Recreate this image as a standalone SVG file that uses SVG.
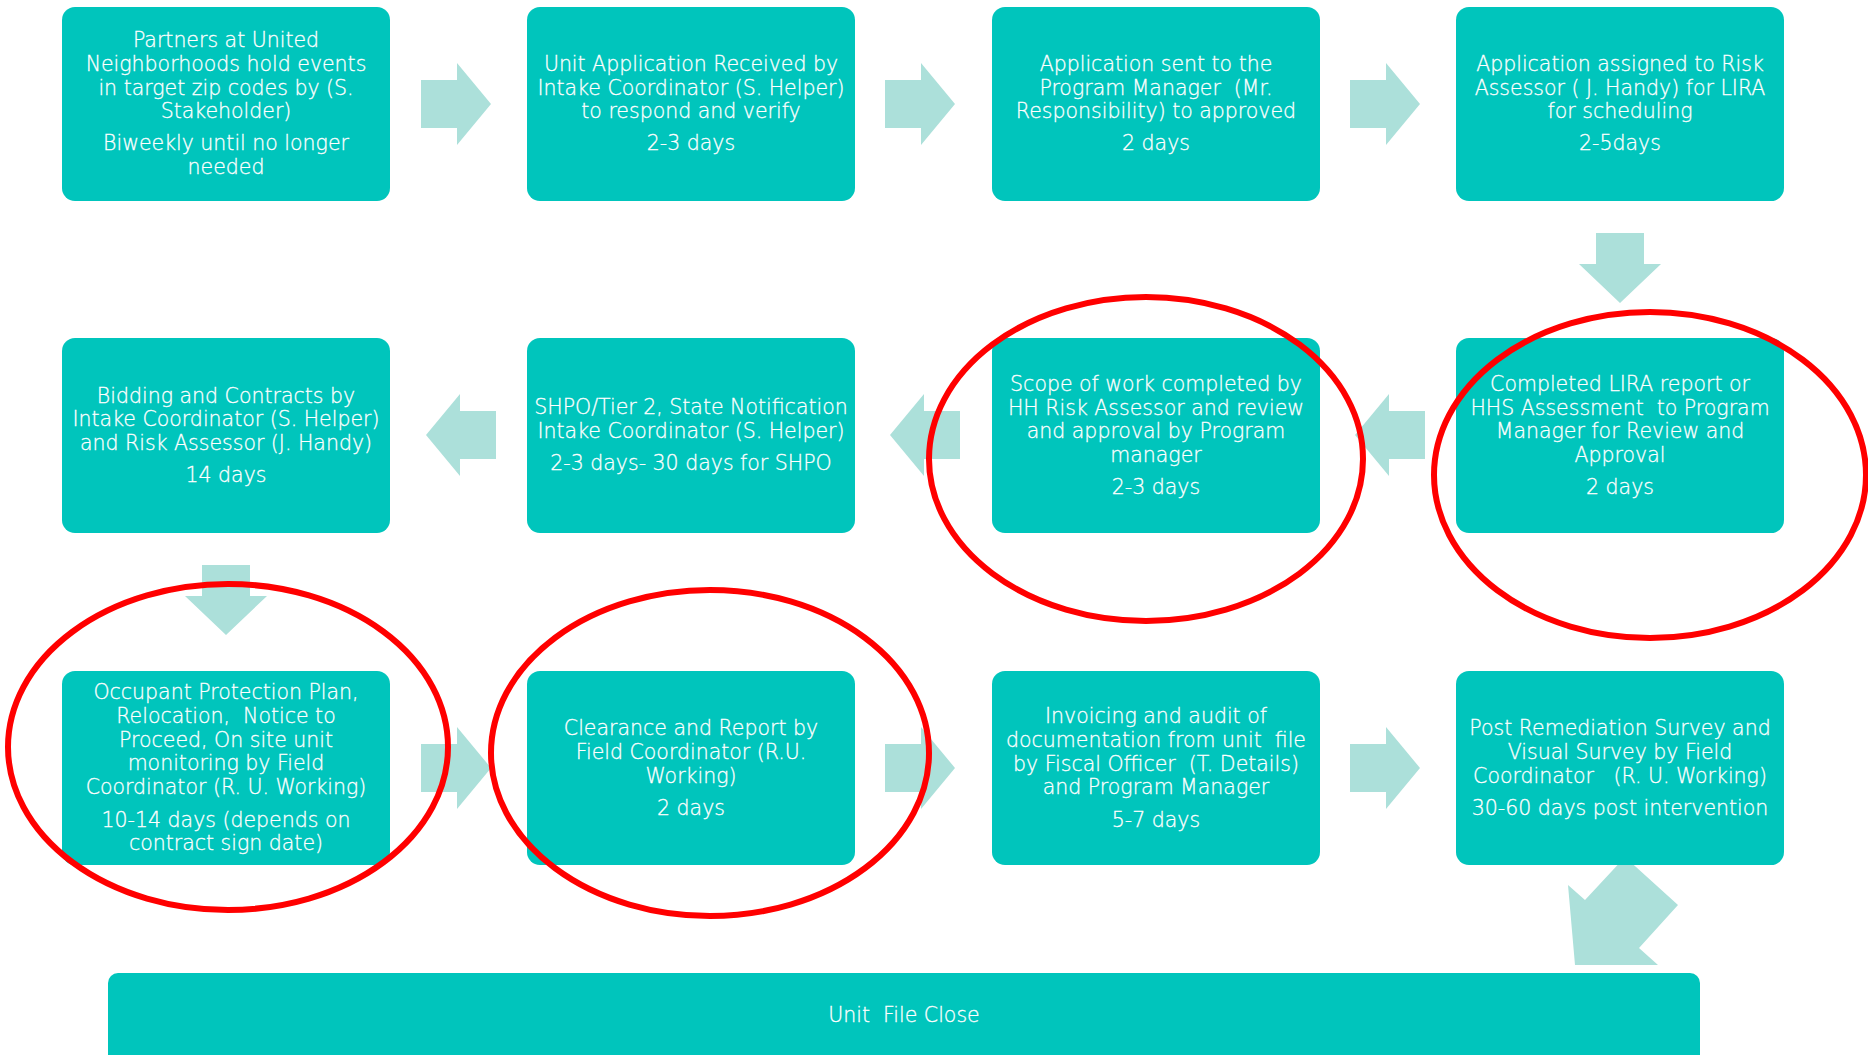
<svg xmlns="http://www.w3.org/2000/svg" width="1868" height="1055" viewBox="0 0 1868 1055">
<style>
.box{fill:#00C5BC}
.arr{fill:#ACE0DA}
.t{font-family:"DejaVu Sans","Liberation Sans",sans-serif;font-size:20.5px;font-weight:300;fill:#FFFFFF;stroke:#FFFFFF;stroke-width:0.3px;text-anchor:middle;white-space:pre}
.ring{fill:none;stroke:#FF0000;stroke-width:6}
</style>
<defs>
<polygon id="ra" points="0,-24 36,-24 36,-41 70,0 36,41 36,24 0,24"/>
<polygon id="da" points="-24,0 24,0 24,31 41,31 0,70 -41,31 -24,31"/>
</defs>
<g id="connectors" class="arr">
<use href="#ra" transform="translate(421,104)"/>
<use href="#ra" transform="translate(885,104)"/>
<use href="#ra" transform="translate(1350,104)"/>
<use href="#da" transform="translate(1620,233)"/>
<use href="#ra" transform="translate(1425,435) scale(-1,1)"/>
<use href="#ra" transform="translate(960,435) scale(-1,1)"/>
<use href="#ra" transform="translate(496,435) scale(-1,1)"/>
<use href="#da" transform="translate(226,565)"/>
<use href="#ra" transform="translate(421,768)"/>
<use href="#ra" transform="translate(885,768)"/>
<use href="#ra" transform="translate(1350,768)"/>
<polygon points="1568,885 1585,900 1625,857 1678,905 1639,948 1658,965 1575,965"/>
</g>
<g id="n1"><rect class="box" x="62" y="7" width="328" height="194" rx="13"/>
<text class="t" x="226"><tspan x="226" y="47">Partners at United</tspan><tspan x="226" y="71">Neighborhoods hold events</tspan><tspan x="226" y="95">in target zip codes by (S.</tspan><tspan x="226" y="118">Stakeholder)</tspan><tspan x="226" y="150">Biweekly until no longer</tspan><tspan x="226" y="174">needed</tspan></text></g>
<g id="n2"><rect class="box" x="527" y="7" width="328" height="194" rx="13"/>
<text class="t"><tspan x="691" y="71">Unit Application Received by</tspan><tspan x="691" y="95">Intake Coordinator (S. Helper)</tspan><tspan x="691" y="118">to respond and verify</tspan><tspan x="691" y="150">2-3 days</tspan></text></g>
<g id="n3"><rect class="box" x="992" y="7" width="328" height="194" rx="13"/>
<text class="t"><tspan x="1156" y="71">Application sent to the</tspan><tspan x="1156" y="95">Program Manager  (Mr.</tspan><tspan x="1156" y="118">Responsibility) to approved</tspan><tspan x="1156" y="150">2 days</tspan></text></g>
<g id="n4"><rect class="box" x="1456" y="7" width="328" height="194" rx="13"/>
<text class="t"><tspan x="1620" y="71">Application assigned to Risk</tspan><tspan x="1620" y="95">Assessor ( J. Handy) for LIRA</tspan><tspan x="1620" y="118">for scheduling</tspan><tspan x="1620" y="150">2-5days</tspan></text></g>
<g id="n5"><rect class="box" x="1456" y="338" width="328" height="195" rx="13"/>
<text class="t"><tspan x="1620" y="391">Completed LIRA report or</tspan><tspan x="1620" y="415">HHS Assessment  to Program</tspan><tspan x="1620" y="438">Manager for Review and</tspan><tspan x="1620" y="462">Approval</tspan><tspan x="1620" y="494">2 days</tspan></text></g>
<g id="n6"><rect class="box" x="992" y="338" width="328" height="195" rx="13"/>
<text class="t"><tspan x="1156" y="391">Scope of work completed by</tspan><tspan x="1156" y="415">HH Risk Assessor and review</tspan><tspan x="1156" y="438">and approval by Program</tspan><tspan x="1156" y="462">manager</tspan><tspan x="1156" y="494">2-3 days</tspan></text></g>
<g id="n7"><rect class="box" x="527" y="338" width="328" height="195" rx="13"/>
<text class="t"><tspan x="691" y="414">SHPO/Tier 2, State Notification</tspan><tspan x="691" y="438">Intake Coordinator (S. Helper)</tspan><tspan x="691" y="470">2-3 days- 30 days for SHPO</tspan></text></g>
<g id="n8"><rect class="box" x="62" y="338" width="328" height="195" rx="13"/>
<text class="t"><tspan x="226" y="403">Bidding and Contracts by</tspan><tspan x="226" y="426">Intake Coordinator (S. Helper)</tspan><tspan x="226" y="450">and Risk Assessor (J. Handy)</tspan><tspan x="226" y="482">14 days</tspan></text></g>
<g id="n9"><rect class="box" x="62" y="671" width="328" height="194" rx="13"/>
<text class="t"><tspan x="226" y="699">Occupant Protection Plan,</tspan><tspan x="226" y="723">Relocation,  Notice to</tspan><tspan x="226" y="747">Proceed, On site unit</tspan><tspan x="226" y="770">monitoring by Field</tspan><tspan x="226" y="794">Coordinator (R. U. Working)</tspan><tspan x="226" y="827">10-14 days (depends on</tspan><tspan x="226" y="850">contract sign date)</tspan></text></g>
<g id="n10"><rect class="box" x="527" y="671" width="328" height="194" rx="13"/>
<text class="t"><tspan x="691" y="735">Clearance and Report by</tspan><tspan x="691" y="759">Field Coordinator (R.U.</tspan><tspan x="691" y="783">Working)</tspan><tspan x="691" y="815">2 days</tspan></text></g>
<g id="n11"><rect class="box" x="992" y="671" width="328" height="194" rx="13"/>
<text class="t"><tspan x="1156" y="723">Invoicing and audit of</tspan><tspan x="1156" y="747">documentation from unit  file</tspan><tspan x="1156" y="771">by Fiscal Officer  (T. Details)</tspan><tspan x="1156" y="794">and Program Manager</tspan><tspan x="1156" y="827">5-7 days</tspan></text></g>
<g id="n12"><rect class="box" x="1456" y="671" width="328" height="194" rx="13"/>
<text class="t"><tspan x="1620" y="735">Post Remediation Survey and</tspan><tspan x="1620" y="759">Visual Survey by Field</tspan><tspan x="1620" y="783">Coordinator   (R. U. Working)</tspan><tspan x="1620" y="815">30-60 days post intervention</tspan></text></g>
<g id="n13"><rect class="box" x="108" y="973" width="1592" height="110" rx="10"/>
<text class="t" x="904" y="1022">Unit  File Close</text></g>
<g id="highlights">
<ellipse class="ring" cx="1146" cy="459" rx="217" ry="162"/>
<ellipse class="ring" cx="1650" cy="475" rx="216" ry="163"/>
<ellipse class="ring" cx="228" cy="747" rx="220" ry="163"/>
<ellipse class="ring" cx="710" cy="753" rx="219" ry="163"/>
</g>
</svg>
